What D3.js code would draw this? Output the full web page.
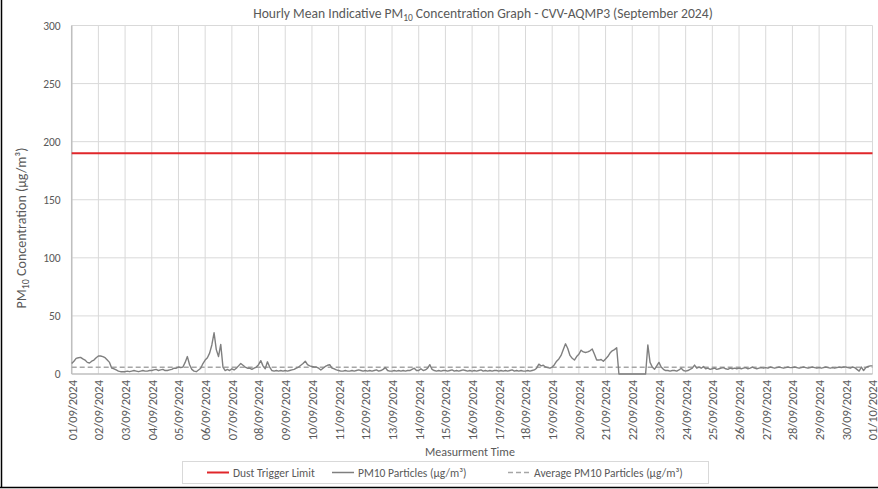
<!DOCTYPE html>
<html><head><meta charset="utf-8">
<script src="https://cdn.jsdelivr.net/npm/d3@7"></script>
<style>
html,body{margin:0;padding:0;background:#fff;}
svg{display:block;font-family:Carlito,Lato,"Open Sans",sans-serif;}
</style></head>
<body>
<svg id="chart" width="878" height="489"></svg>
<script>
// ---- data ----
const titleMain = "Hourly Mean Indicative PM";
const titleSub = "10";
const titleRest = " Concentration Graph - CVV-AQMP3 (September 2024)";
const yTitleMain = "PM", yTitleSub = "10", yTitleRest = " Concentration (\u00b5g/m\u00b3)";
const xTitle = "Measurment Time";
const yTicks = [0, 50, 100, 150, 200, 250, 300];
const startDate = Date.UTC(2024, 8, 1);   // 01/09/2024
const endDate = Date.UTC(2024, 9, 1);     // 01/10/2024
const stepHours = 2;
const dustTriggerLimit = 190;
const averagePM10 = 5.8;
const legendLabels = ["Dust Trigger Limit", "PM10 Particles (\u00b5g/m\u00b3)", "Average PM10 Particles (\u00b5g/m\u00b3)"];
// PM10 readings every 2 hours (12 per day)
const pm10 = [
  9, 11, 13.5, 14, 14.3, 13, 12, 10, 9.5, 11, 12, 14,            // 01/09
  15.5, 15.5, 15, 14, 12, 10, 5, 4.5, 3.5, 2.5, 2, 2,            // 02/09
  2, 2.5, 2, 2.5, 3, 2.5, 2, 2.5, 3, 2.5, 2.5, 3,                // 03/09
  3, 3.5, 4, 3, 3.5, 4, 3, 3, 3.5, 4, 5, 5,                      // 04/09
  6, 5.5, 6, 10, 15, 8, 4, 2.5, 2, 3.5, 5, 9,                    // 05/09
  12, 14, 18, 25, 35.5, 21, 15, 25.5, 6, 3, 4, 3,                // 06/09
  4.5, 3.5, 5, 7, 9, 7.5, 6, 5, 5, 4, 5, 6,                      // 07/09
  8, 11.5, 7, 4.5, 10.5, 6, 3, 2.5, 3, 2.5, 3, 2.5,              // 08/09
  3, 2.5, 3, 3.5, 4, 5, 6, 7.5, 9, 11, 8, 7,                     // 09/09
  6.5, 6, 6, 5, 3.5, 5, 6.5, 7.5, 8, 5, 4.5, 3.5,                // 10/09
  3, 2.5, 2.5, 3, 2.5, 2.5, 3, 2.5, 3, 3.5, 3, 2.5,              // 11/09
  3, 2.5, 3, 2.5, 3, 3.5, 2.5, 3, 4, 5.5, 3, 2.5,                // 12/09
  2.5, 3, 2.5, 3, 2.5, 3, 2.5, 3, 3, 4, 5, 3,                    // 13/09
  3, 4.5, 3, 3.5, 5, 8, 4, 3, 2.5, 3, 2.5, 3,                    // 14/09
  3, 2.5, 3, 3.5, 2.5, 3, 2.5, 3, 3.5, 3, 2.5, 3,                // 15/09
  2.5, 3, 2.5, 3, 3.5, 2.5, 3, 2.5, 3, 2.5, 3, 3,                // 16/09
  2.5, 3, 2.5, 3, 2.5, 3, 3.5, 2.5, 3, 2.5, 3, 2.5,              // 17/09
  2.5, 3, 2.5, 3, 3.5, 5, 8.5, 7, 7.5, 6, 5.5, 5,                // 18/09
  6, 8, 11, 13, 16, 21, 26, 22, 16, 13.5, 12, 15,                // 19/09
  17, 20.5, 19, 18.5, 19, 20, 21.5, 17, 12, 12, 12.5, 11,        // 20/09
  13, 15, 18, 20, 21, 22.6, 0, 0, 0, 0, 0, 0,                    // 21/09
  0, 0, 0, 0, 0, 0, 0, 25, 10, 6, 4, 7,                          // 22/09
  10, 6, 4, 3, 3, 2.5, 3, 3, 2.5, 3.5, 5, 3,                     // 23/09
  2.5, 3, 4, 5, 7.7, 5, 6, 5, 6.4, 4.5, 5, 4,                    // 24/09
  4.5, 5, 4, 4.5, 5, 5.5, 4.5, 4, 5, 4.5, 5, 4.5,                // 25/09
  5, 4.5, 5, 5.5, 4.5, 5, 6, 5, 4.5, 5, 5.5, 5,                  // 26/09
  5.5, 5, 6, 5.5, 5, 5.5, 6, 5.5, 5, 5.5, 6, 5.5,                // 27/09
  5.5, 6, 5.5, 5, 5.5, 6, 5.5, 5, 5.5, 6, 5.5, 5,                // 28/09
  5.5, 5, 5.5, 6, 5.5, 5, 5.5, 5, 5.5, 6, 5.5, 6,                // 29/09
  6, 5.5, 5, 6, 5.5, 4, 2.5, 6, 3, 5.5, 6.5, 7,                  // 30/09
  7                                                              // 01/10 00:00
];

// ---- layout ----
const svg = d3.select("#chart");
const W = 878, H = 489;
const plot = {left: 71.7, right: 872.5, top: 25.5, bottom: 374};
const textCol = "#595959";

const x = d3.scaleUtc().domain([startDate, endDate]).range([plot.left, plot.right]);
const y = d3.scaleLinear().domain([0, 300]).range([plot.bottom, plot.top]);

// outer frame (left and bottom visible)
svg.append("line").attr("x1", 1.5).attr("x2", 1.5).attr("y1", 0).attr("y2", 487.5)
  .attr("stroke", "#000").attr("stroke-width", 1.5);
svg.append("line").attr("x1", 0).attr("x2", W).attr("y1", 487.5).attr("y2", 487.5)
  .attr("stroke", "#000").attr("stroke-width", 1.5);

// gridlines
const days = d3.utcDay.range(startDate, endDate + 1);
svg.append("g").selectAll("line").data(days).join("line")
  .attr("x1", d => x(d)).attr("x2", d => x(d))
  .attr("y1", plot.top).attr("y2", plot.bottom)
  .attr("stroke", "#d9d9d9").attr("stroke-width", 1);
svg.append("g").selectAll("line").data(yTicks.filter(v => v > 0)).join("line")
  .attr("x1", plot.left).attr("x2", plot.right)
  .attr("y1", d => y(d)).attr("y2", d => y(d))
  .attr("stroke", "#d9d9d9").attr("stroke-width", 1);

// axes lines
svg.append("line").attr("x1", plot.left).attr("x2", plot.left).attr("y1", plot.top).attr("y2", plot.bottom)
  .attr("stroke", "#bfbfbf").attr("stroke-width", 1.5);
svg.append("line").attr("x1", plot.left).attr("x2", plot.right).attr("y1", plot.bottom).attr("y2", plot.bottom)
  .attr("stroke", "#bfbfbf").attr("stroke-width", 1.5);

// y axis
const yAxis = d3.axisLeft(y).tickValues(yTicks).tickSize(0).tickPadding(11);
const gy = svg.append("g").attr("transform", `translate(${plot.left},0)`).call(yAxis);
gy.select(".domain").remove();
gy.selectAll("text").attr("fill", textCol).attr("font-size", "11.5px").style("font-family", "Carlito,Lato,sans-serif");

// x axis
const xAxis = d3.axisBottom(x).tickValues(days).tickFormat(d3.utcFormat("%d/%m/%Y")).tickSize(0);
const gx = svg.append("g").attr("transform", `translate(0,${plot.bottom})`).call(xAxis);
gx.select(".domain").remove();
gx.selectAll("text")
  .attr("fill", textCol).attr("font-size", "12.5px").style("font-family", "Carlito,Lato,sans-serif")
  .attr("text-anchor", "end").attr("dy", "0.35em")
  .attr("transform", "translate(0,6) rotate(-90)")
  .attr("x", 0).attr("y", 0);

// data lines
const dustLine = d3.line().x(d => x(d)).y(() => y(dustTriggerLimit));
svg.append("path").datum([startDate, endDate]).attr("d", dustLine)
  .attr("fill", "none").attr("stroke", "#e0262a").attr("stroke-width", 2);

const avgLine = d3.line().x(d => x(d)).y(() => y(averagePM10));
svg.append("path").datum([startDate, endDate]).attr("d", avgLine)
  .attr("fill", "none").attr("stroke", "#a6a6a6").attr("stroke-width", 1.5).attr("stroke-dasharray", "5,3");

const pmLine = d3.line()
  .x((d, i) => x(startDate + i * stepHours * 3600000))
  .y(d => y(d));
svg.append("path").datum(pm10).attr("d", pmLine)
  .attr("fill", "none").attr("stroke", "#7f7f7f").attr("stroke-width", 1.4).attr("stroke-linejoin", "round");

// title
const t = svg.append("text").attr("x", 483).attr("y", 18).attr("text-anchor", "middle")
  .attr("fill", textCol).attr("font-size", "13.6px");
t.append("tspan").text(titleMain);
t.append("tspan").text(titleSub).attr("font-size", "9.5px").attr("dy", 3);
t.append("tspan").text(titleRest).attr("dy", -3);

// y title
const yt = svg.append("text").attr("transform", `translate(26,${228}) rotate(-90)`).attr("text-anchor", "middle")
  .attr("fill", textCol).attr("font-size", "14px");
yt.append("tspan").text(yTitleMain);
yt.append("tspan").text(yTitleSub).attr("font-size", "10px").attr("dy", 3);
yt.append("tspan").text(yTitleRest).attr("dy", -3);

// x title
svg.append("text").attr("x", 470).attr("y", 456).attr("text-anchor", "middle")
  .attr("fill", textCol).attr("font-size", "12px").text(xTitle);

// legend
const lg = svg.append("g");
lg.append("rect").attr("x", 182.5).attr("y", 461.5).attr("width", 526).attr("height", 22)
  .attr("fill", "#fff").attr("stroke", "#d9d9d9");
const legendItems = [
  {x: 207, color: "#e0262a", dash: null, w: 2},
  {x: 332, color: "#7f7f7f", dash: null, w: 1.5},
  {x: 508, color: "#a6a6a6", dash: "5,3", w: 1.5}
];
legendItems.forEach((it, i) => {
  lg.append("line").attr("x1", it.x).attr("x2", it.x + 22).attr("y1", 472.5).attr("y2", 472.5)
    .attr("stroke", it.color).attr("stroke-width", it.w).attr("stroke-dasharray", it.dash);
  lg.append("text").attr("x", it.x + 26).attr("y", 476.5).attr("fill", textCol)
    .attr("font-size", "11.5px").text(legendLabels[i]);
});
</script>
</body></html>
